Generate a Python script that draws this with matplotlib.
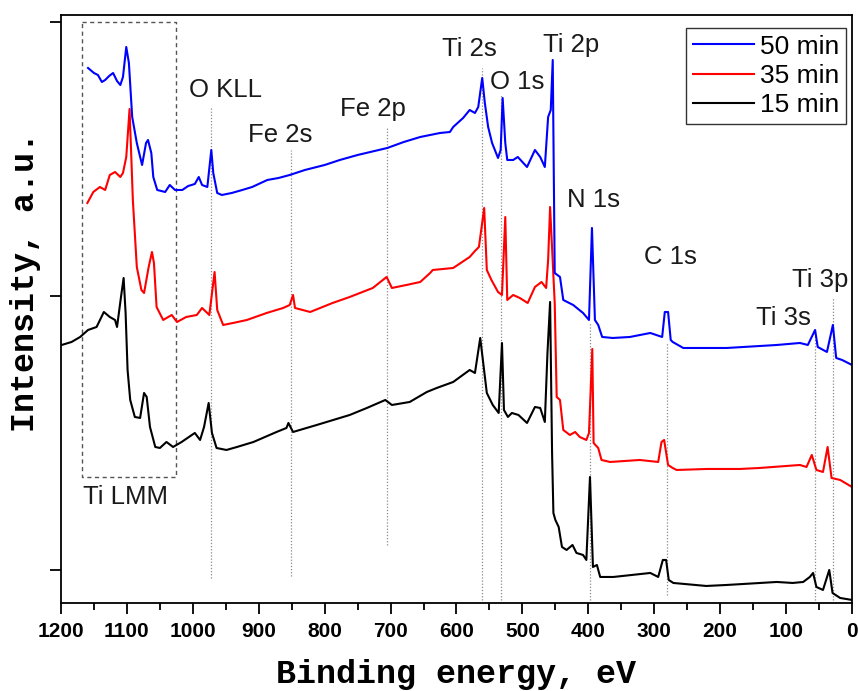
import matplotlib
matplotlib.use("Agg")
import matplotlib.pyplot as plt
from matplotlib.ticker import MultipleLocator

# ---------------------------
# Datos (energía de enlace en eV, intensidad en u.a.)
# ---------------------------
e_50 = [1159, 1150, 1144, 1138, 1133, 1127, 1121, 1115, 1110, 1106, 1101, 1097,
        1092, 1085, 1077, 1071, 1068, 1063, 1060, 1054, 1048, 1042, 1035, 1027,
        1016, 1007, 997, 991, 986, 978, 972, 969, 963, 956, 941, 925, 910, 887,
        870, 853, 830, 800, 777, 750, 705, 680, 655, 640, 625, 610, 605, 590,
        580, 572, 567, 561, 557, 552, 546, 537, 533, 530, 526, 523, 514, 507,
        500, 493, 481, 473, 466, 461, 457, 454, 451, 443, 438, 423, 408, 399,
        394.5, 390, 385, 379, 363, 337, 306, 288, 284, 279, 275, 272, 256, 190,
        114, 79, 67, 56, 52, 38, 29, 24, 15, 0]
i_50 = [535, 530, 528, 521, 523, 527, 530, 522, 518, 526, 556, 540,
        486, 460, 438, 460, 463, 450, 426, 413, 412, 411, 418, 413,
        413, 417, 419, 426, 418, 416, 453, 430, 410, 408, 410, 413, 416, 423,
        425, 428, 433, 438, 443, 448, 455, 461, 466, 468, 470, 471, 476, 485,
        493, 490, 496, 525, 500, 476, 460, 445, 453, 505, 460, 443, 443, 446,
        441, 436, 453, 446, 436, 486, 493, 543, 330, 326, 303, 298, 290, 283,
        375, 283, 278, 266, 265, 266, 270, 266, 291, 291, 263, 261, 255, 255,
        258, 260, 258, 273, 256, 251, 278, 245, 243, 238]

e_35 = [1160, 1151, 1141, 1133, 1126, 1118, 1110, 1106, 1101, 1096, 1091, 1085,
        1078, 1074, 1067, 1062, 1059, 1055, 1045, 1032, 1024, 1010, 994, 986,
        975, 967, 963, 954, 939, 918, 888, 863, 853, 848, 845, 822, 788, 762,
        727, 706, 698, 676, 655, 640, 636, 605, 580, 572, 566, 558, 554, 547,
        537, 531, 526, 523, 514, 504, 492, 481, 471, 464, 461, 458, 451, 448,
        443, 438, 428, 420, 413, 403, 399, 394, 392, 385, 380, 367, 322, 294,
        289, 285, 279, 272, 266, 220, 170, 140, 79, 69, 61, 54, 44, 37, 31, 18, 0]
i_35 = [400, 411, 416, 413, 428, 431, 426, 430, 446, 494, 403, 336,
        313, 310, 336, 351, 340, 296, 283, 288, 281, 286, 288, 295,
        288, 331, 293, 278, 280, 283, 290, 295, 298, 308, 295, 291, 300, 306,
        315, 326, 315, 318, 321, 330, 333, 335, 346, 352, 356, 395, 333, 323,
        311, 308, 386, 303, 308, 305, 300, 316, 321, 315, 343, 396, 300, 206,
        203, 173, 168, 171, 166, 163, 170, 254, 160, 155, 143, 141, 143, 141,
        161, 163, 138, 135, 133, 134, 134, 135, 138, 136, 148, 133, 131, 156, 125, 123, 116]

e_15 = [1199, 1184, 1171, 1159, 1146, 1135, 1126, 1118, 1115, 1109, 1105, 1102,
        1099, 1095, 1088, 1080, 1074, 1070, 1065, 1057, 1050, 1040, 1030, 1017,
        997, 989, 983, 976, 971, 964, 949, 933, 908, 873, 858, 855, 848, 812,
        762, 736, 708, 698, 671, 645, 630, 605, 580, 572, 564, 560, 554, 545,
        536, 531, 528, 522, 516, 506, 493, 481, 473, 466, 462, 458, 455, 453,
        450, 445, 440, 433, 424, 418, 408, 403, 397.5, 393, 387, 382, 362, 306,
        294, 287, 282, 278, 271, 221, 190, 114, 90, 74, 64, 59, 54, 44, 34.5,
        29.5, 18, 0]
i_15 = [258, 261, 266, 273, 276, 291, 286, 283, 276, 306, 325, 290,
        233, 203, 186, 185, 210, 206, 176, 156, 155, 161, 156, 161,
        170, 163, 176, 200, 170, 155, 153, 156, 161, 171, 175, 180, 171, 178,
        188, 195, 203, 198, 201, 211, 215, 221, 233, 230, 265, 243, 210, 198,
        190, 260, 193, 186, 190, 188, 180, 196, 195, 181, 250, 301, 150, 90,
        83, 76, 56, 53, 58, 50, 48, 43, 126, 36, 38, 26, 26, 30,
        26, 43, 43, 23, 20, 17, 18, 21, 20, 21, 26, 30, 16, 13, 33,
        10, 5, 3]

series = ["50 min", "35 min", "15 min"]

picos = ["O KLL", "Fe 2s", "Fe 2p", "Ti 2s", "O 1s", "Ti 2p",
         "N 1s", "C 1s", "Ti 3s", "Ti 3p"]
picos_e = [973, 851, 705.5, 562, 532.5, 454, 397.5, 281, 56, 29.4]

# ---------------------------
# FIGURA
# ---------------------------
fig = plt.figure(figsize=(8.58, 6.91), dpi=100)
ax = fig.add_axes([0.0711, 0.1274, 0.9219, 0.8509])

lw = 1.5
l15, = ax.plot(e_15, i_15, color="black", linewidth=lw)
l35, = ax.plot(e_35, i_35, color="#ff0000", linewidth=lw)
l50, = ax.plot(e_50, i_50, color="#0000ff", linewidth=lw)

# Líneas punteadas de los picos (extremos en u.a.)
tramos = [(496, 25), (453, 27), (475, 58), (535, 3), (508, 3), (None, None),
          (281, 3), (260, 8), (273, 3), (306, 3)]
for e, (top, bot) in zip(picos_e, tramos):
    if top is None:
        continue
    ax.plot([e, e], [bot, top], color="#8a8a8a", linestyle=(0, (1, 1.5)),
            linewidth=0.9, zorder=0)

# Recuadro Ti LMM
ax.plot([1168.6, 1025.5, 1025.5, 1168.6, 1168.6],
        [580.5, 580.5, 126, 126, 580.5],
        color="#555555", linestyle=(0, (3, 2.5)), linewidth=1.0, zorder=0)

# Etiquetas
fuente = "Liberation Sans"
etiquetas = {
    "O KLL": (949.7, 513), "Fe 2s": (867.8, 468), "Fe 2p": (726.7, 494),
    "Ti 2s": (581, 554), "O 1s": (508.3, 521), "Ti 2p": (426.3, 558),
    "N 1s": (391.4, 403), "C 1s": (276.1, 346), "Ti 3s": (104.7, 285),
    "Ti 3p": (48.6, 323), "Ti LMM": (1102.9, 106),
}
for txt, (x, y) in etiquetas.items():
    ax.text(x, y, txt, fontsize=18.5, family=fuente, ha="center", va="center",
            color="#1a1a1a")

# Ejes
ax.set_xlim(1200, 0)
ax.set_ylim(0, 588)
ax.xaxis.set_major_locator(MultipleLocator(100))
ax.xaxis.set_minor_locator(MultipleLocator(50))
ax.set_yticks([33, 307, 581])
ax.set_yticklabels([])

ax.tick_params(axis="x", which="major", direction="out", length=8, width=1.3,
               labelsize=15, pad=6)
ax.tick_params(axis="x", which="minor", direction="out", length=5, width=1.3)
ax.tick_params(axis="y", which="major", direction="out", length=8, width=1.3)
for lab in ax.get_xticklabels():
    lab.set_fontweight("bold")
    lab.set_family(fuente)

for s in ax.spines.values():
    s.set_linewidth(1.3)

ax.set_xlabel("Binding energy, eV", family="Liberation Mono", fontweight="bold",
              fontsize=24, va="center")
ax.xaxis.set_label_coords(0.5, -0.1224)
ax.set_ylabel("Intensity, a.u.", family="Liberation Mono", fontweight="bold",
              fontsize=24, va="center", ha="center")
ax.yaxis.set_label_coords(-0.0455, 0.546)

leg = ax.legend([l50, l35, l15], series, loc="upper right",
                bbox_to_anchor=(0.9924, 0.978), borderaxespad=0,
                fancybox=False, edgecolor="#333333", framealpha=1,
                prop={"family": fuente, "size": 19},
                handlelength=2.3, handletextpad=0.25, labelspacing=0.2,
                borderpad=0.25)
leg.get_frame().set_linewidth(1.0)

plt.savefig("out.png", dpi=100)
plt.close()
